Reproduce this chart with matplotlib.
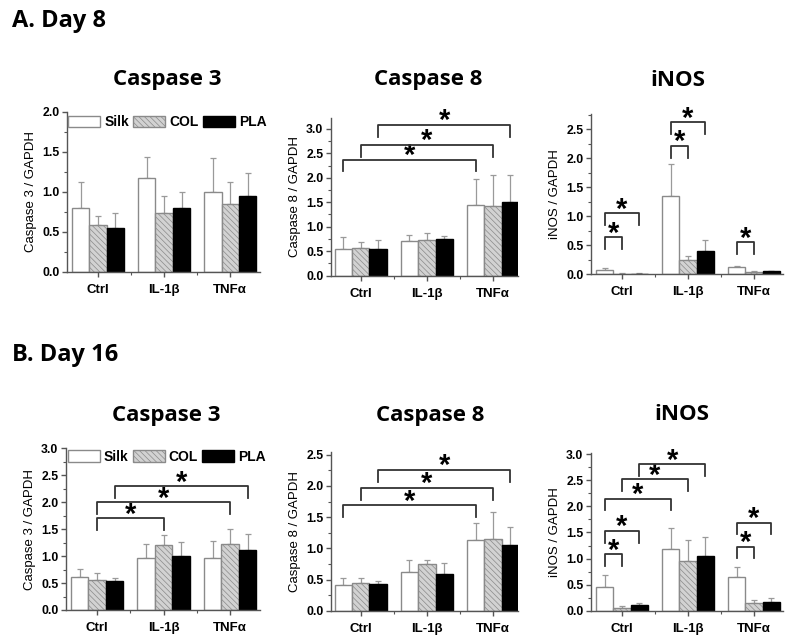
import numpy as np
import matplotlib
matplotlib.use('Agg')
import matplotlib.pyplot as plt
from matplotlib.ticker import MultipleLocator

plt.rcParams['font.family'] = ['Liberation Sans', 'DejaVu Sans']
plt.rcParams['font.weight'] = 'bold'
plt.rcParams['hatch.linewidth'] = 0.5

groups = ['Ctrl', 'IL-1β', 'TNFα']
series = ['Silk', 'COL', 'PLA']

# means [group][series] and upper SD
a_casp3_mean = [[0.79, 0.58, 0.55], [1.17, 0.73, 0.80], [0.99, 0.85, 0.95]]
a_casp3_err = [[0.33, 0.11, 0.18], [0.26, 0.21, 0.20], [0.43, 0.27, 0.28]]
a_casp8_mean = [[0.54, 0.56, 0.55], [0.71, 0.72, 0.74], [1.44, 1.42, 1.51]]
a_casp8_err = [[0.24, 0.12, 0.17], [0.12, 0.15, 0.08], [0.54, 0.64, 0.55]]
a_inos_mean = [[0.07, 0.01, 0.01], [1.35, 0.24, 0.40], [0.12, 0.04, 0.05]]
a_inos_err = [[0.03, 0.005, 0.005], [0.55, 0.08, 0.19], [0.02, 0.01, 0.01]]
b_casp3_mean = [[0.62, 0.55, 0.54], [0.96, 1.21, 1.00], [0.96, 1.22, 1.12]]
b_casp3_err = [[0.14, 0.14, 0.06], [0.27, 0.18, 0.26], [0.32, 0.29, 0.29]]
b_casp8_mean = [[0.41, 0.44, 0.43], [0.62, 0.75, 0.59], [1.13, 1.15, 1.05]]
b_casp8_err = [[0.12, 0.08, 0.05], [0.20, 0.07, 0.18], [0.28, 0.43, 0.30]]
b_inos_mean = [[0.46, 0.06, 0.11], [1.19, 0.96, 1.05], [0.65, 0.15, 0.16]]
b_inos_err = [[0.22, 0.03, 0.03], [0.39, 0.40, 0.36], [0.18, 0.05, 0.08]]

# significance brackets: (group a, series a, group b, series b, height)
a_casp8_sig = [(0, 0, 2, 0, 2.37), (0, 1, 2, 1, 2.67), (0, 2, 2, 2, 3.08)]
a_inos_sig = [(0, 0, 0, 1, 0.64), (0, 0, 0, 2, 1.05), (1, 0, 1, 1, 2.21),
              (1, 0, 1, 2, 2.62), (2, 0, 2, 1, 0.55)]
b_casp3_sig = [(0, 1, 1, 1, 1.70), (0, 1, 2, 1, 2.00), (0, 2, 2, 2, 2.30)]
b_casp8_sig = [(0, 0, 2, 0, 1.69), (0, 1, 2, 1, 1.97), (0, 2, 2, 2, 2.26)]
b_inos_sig = [(0, 0, 0, 1, 1.08), (0, 0, 0, 2, 1.53), (0, 0, 1, 0, 2.15),
              (0, 1, 1, 1, 2.52), (0, 2, 1, 2, 2.81), (2, 0, 2, 1, 1.23),
              (2, 0, 2, 2, 1.69)]

W, H = 800, 641
BW = 0.263
styles = [dict(facecolor='white', edgecolor='#8a8a8a'),
          dict(facecolor='#d2d2d2', edgecolor='#8a8a8a', hatch='\\\\\\\\\\\\'),
          dict(facecolor='black', edgecolor='black')]

fig = plt.figure(figsize=(W / 100, H / 100), dpi=100)


def px_axes(l, r, t, b):
    return fig.add_axes([l / W, 1 - b / H, (r - l) / W, (b - t) / H])


def bar_x(g, s):
    return g + (s - 1) * BW


def panel(rect, mean, err, ylim, xlim, ylabel, sig=None, legend=None):
    ax = px_axes(*rect)
    mean = np.array(mean)
    err = np.array(err)
    x = np.arange(len(groups))
    for s in range(len(series)):
        ax.bar(x + (s - 1) * BW, mean[:, s], BW, linewidth=1.0, label=series[s],
               zorder=2, **styles[s])
        ax.errorbar(x + (s - 1) * BW, mean[:, s], yerr=[np.zeros(3), err[:, s]],
                    fmt='none', ecolor='#9a9a9a', elinewidth=0.9, capsize=2,
                    capthick=0.9, zorder=1)
    ax.set_xlim(*xlim)
    ax.set_ylim(*ylim)
    ax.set_xticks(x)
    ax.set_xticklabels(groups, fontsize=9.5)
    ax.set_xticks([0.5, 1.5], minor=True)
    ax.yaxis.set_major_locator(MultipleLocator(0.5))
    ax.yaxis.set_minor_locator(MultipleLocator(0.25))
    ax.yaxis.set_major_formatter(matplotlib.ticker.FormatStrFormatter('%.1f'))
    for t in ax.get_yticklabels():
        t.set_fontsize(8.8)
    ax.tick_params(which='major', length=3.5, width=1, color='#555555', pad=2)
    ax.tick_params(which='minor', length=2, width=0.8, color='#555555')
    ax.tick_params(axis='x', pad=5)
    for sp in ['top', 'right']:
        ax.spines[sp].set_visible(False)
    for sp in ['left', 'bottom']:
        ax.spines[sp].set_color('#555555')
        ax.spines[sp].set_linewidth(1.0)
    ax.set_ylabel(ylabel, fontsize=9.5, labelpad=4)
    leg = 0.075 * ylim[1]
    for g1, s1, g2, s2, h in (sig or []):
        x1, x2 = bar_x(g1, s1), bar_x(g2, s2)
        ax.plot([x1, x1, x2, x2], [h - leg, h, h, h - leg], color='#333333',
                lw=1.3, clip_on=False, zorder=3)
        ax.annotate('*', ((x1 + x2) / 2, h), xytext=(0, -3.2), textcoords='offset points',
                    ha='center', va='baseline', fontsize=21, fontweight='bold',
                    annotation_clip=False)
    if legend is not None:
        ax.legend(loc='center', bbox_to_anchor=legend, ncol=3, frameon=False,
                  prop={'size': 10, 'weight': 'bold'}, handlelength=2.3,
                  handleheight=0.9, handletextpad=0.3, columnspacing=0.3,
                  borderpad=0)
    return ax


title_font = dict(family=['Open Sans', 'DejaVu Sans'], fontweight='bold')

panel((67, 260, 111.7, 271.7), a_casp3_mean, a_casp3_err, (0, 2.0), (-0.47, 2.45),
      'Caspase 3 / GAPDH', legend=(0.52, 0.935))
panel((331, 518, 118, 275.7), a_casp8_mean, a_casp8_err, (0, 3.22), (-0.45, 2.38),
      'Caspase 8 / GAPDH', sig=a_casp8_sig)
panel((591, 783, 114, 274.3), a_inos_mean, a_inos_err, (0, 2.76), (-0.47, 2.44),
      'iNOS / GAPDH', sig=a_inos_sig)
panel((66, 260, 448.3, 610), b_casp3_mean, b_casp3_err, (0, 3.0), (-0.47, 2.45),
      'Caspase 3 / GAPDH', sig=b_casp3_sig, legend=(0.52, 0.948))
panel((331, 518, 451.7, 610.7), b_casp8_mean, b_casp8_err, (0, 2.55), (-0.45, 2.38),
      'Caspase 8 / GAPDH', sig=b_casp8_sig)
panel((591, 783, 452.7, 610.7), b_inos_mean, b_inos_err, (0, 3.03), (-0.47, 2.44),
      'iNOS / GAPDH', sig=b_inos_sig)

for txt, xc, yc in [('Caspase 3', 167, 80), ('Caspase 8', 428, 80), ('iNOS', 678, 80),
                    ('Caspase 3', 166, 415), ('Caspase 8', 430, 415), ('iNOS', 682, 415)]:
    fig.text(xc / W, 1 - yc / H, txt, ha='center', va='center', fontsize=16, **title_font)

fig.text(12 / W, 1 - 21 / H, 'A. Day 8', ha='left', va='center', fontsize=17, **title_font)
fig.text(12 / W, 1 - 355 / H, 'B. Day 16', ha='left', va='center', fontsize=17, **title_font)

fig.savefig('out.png', dpi=100)
